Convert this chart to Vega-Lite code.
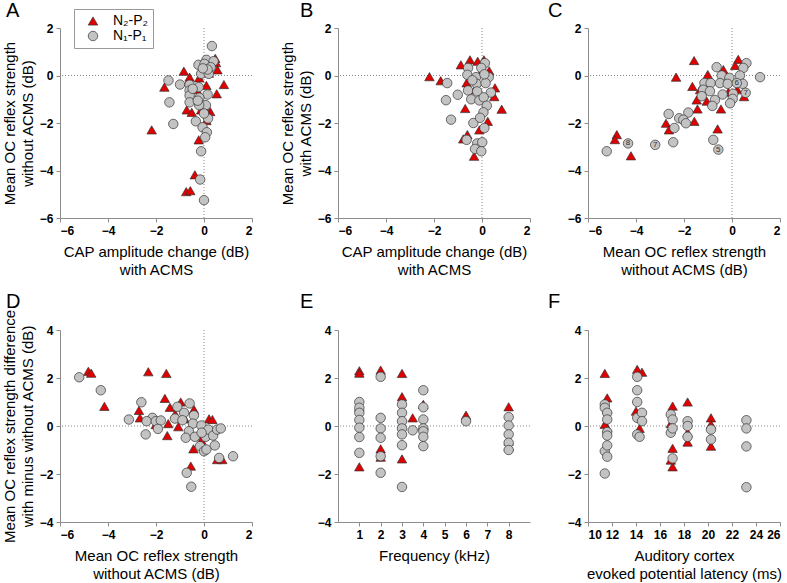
{
"$schema": "https://vega.github.io/schema/vega-lite/v6.json",
"autosize": {"type": "none"},
"padding": {"left": 60, "top": 28, "right": 727, "bottom": 555},
"background": "white",
"config": {
 "view": {"stroke": null},
 "font": "Liberation Sans",
 "axis": {"grid": false, "domainColor": "#8c8c8c", "tickColor": "#8c8c8c", "tickSize": 4, "labelFontSize": 12, "labelFontWeight": "bold", "labelColor": "#000", "labelFont": "Liberation Sans", "titleFont": "Liberation Sans", "titleFontSize": 15, "titleFontWeight": "normal", "titleColor": "#000", "titleLineHeight": 18, "labelPadding": 3},
 "axisX": {"titlePadding": 8},
 "title": {"anchor": "start", "frame": "group", "fontSize": 20, "fontWeight": "normal", "font": "Liberation Sans", "color": "#000"},
 "legend": {"orient": "none", "legendX": 14, "legendY": -19, "title": null, "labelFontSize": 14, "labelFont": "Liberation Sans", "padding": 5, "strokeColor": "#999", "fillColor": "white", "symbolStrokeColor": "#333", "symbolStrokeWidth": 0.7, "symbolSize": 90, "rowPadding": 1, "labelOffset": 13, "symbolOffset": 7}
},
"datasets": {"pts": [
{"p":"A","s":"N2","x":-0.84,"y":0.18},{"p":"A","s":"N2","x":0.5,"y":0.54},{"p":"A","s":"N2","x":0.56,"y":0.24},{"p":"A","s":"N2","x":0.47,"y":0.72},{"p":"A","s":"N2","x":-0.6,"y":-0.07},{"p":"A","s":"N2","x":-1.65,"y":-0.49},{"p":"A","s":"N2","x":0.83,"y":-0.38},{"p":"A","s":"N2","x":0.1,"y":-0.42},{"p":"A","s":"N2","x":0.53,"y":-0.77},{"p":"A","s":"N2","x":-0.72,"y":-1.45},{"p":"A","s":"N2","x":-0.51,"y":-1.55},{"p":"A","s":"N2","x":-0.12,"y":-1.45},{"p":"A","s":"N2","x":0.26,"y":-1.52},{"p":"A","s":"N2","x":0.05,"y":-1.4},{"p":"A","s":"N2","x":-2.18,"y":-2.29},{"p":"A","s":"N2","x":-0.22,"y":-2.71},{"p":"A","s":"N2","x":-0.38,"y":-4.18},{"p":"A","s":"N2","x":-0.74,"y":-4.89},{"p":"A","s":"N2","x":-0.57,"y":-4.85},{"p":"A","s":"N2","x":-0.2,"y":-0.1},{"p":"A","s":"N2","x":0.1,"y":-1.9},{"p":"A","s":"N2","x":-0.3,"y":-0.6},{"p":"A","s":"N2","x":0.2,"y":0.1},
{"p":"A","s":"N1","x":0.33,"y":1.24},{"p":"A","s":"N1","x":0.1,"y":0.66},{"p":"A","s":"N1","x":0.4,"y":0.6},{"p":"A","s":"N1","x":-0.23,"y":0.45},{"p":"A","s":"N1","x":0.02,"y":0.49},{"p":"A","s":"N1","x":0.28,"y":0.35},{"p":"A","s":"N1","x":-0.12,"y":0.07},{"p":"A","s":"N1","x":0.2,"y":0.07},{"p":"A","s":"N1","x":-1.48,"y":-0.21},{"p":"A","s":"N1","x":-1.0,"y":-0.38},{"p":"A","s":"N1","x":-0.6,"y":-0.39},{"p":"A","s":"N1","x":-0.6,"y":-0.63},{"p":"A","s":"N1","x":-0.22,"y":-0.49},{"p":"A","s":"N1","x":0.15,"y":-0.8},{"p":"A","s":"N1","x":-0.6,"y":-0.84},{"p":"A","s":"N1","x":-0.19,"y":-0.94},{"p":"A","s":"N1","x":-1.44,"y":-1.13},{"p":"A","s":"N1","x":-0.6,"y":-1.13},{"p":"A","s":"N1","x":0.08,"y":-1.25},{"p":"A","s":"N1","x":-0.2,"y":-1.25},{"p":"A","s":"N1","x":0.17,"y":-1.81},{"p":"A","s":"N1","x":-0.34,"y":-1.93},{"p":"A","s":"N1","x":-1.28,"y":-2.04},{"p":"A","s":"N1","x":-0.06,"y":-2.18},{"p":"A","s":"N1","x":0.12,"y":-2.39},{"p":"A","s":"N1","x":0.05,"y":-2.6},{"p":"A","s":"N1","x":-0.12,"y":-3.19},{"p":"A","s":"N1","x":-0.16,"y":-4.38},{"p":"A","s":"N1","x":0.0,"y":-5.25},{"p":"A","s":"N1","x":-0.47,"y":-0.56},{"p":"A","s":"N1","x":-0.26,"y":-1.06},{"p":"A","s":"N1","x":0.0,"y":-1.6},{"p":"A","s":"N1","x":0.15,"y":0.25},{"p":"A","s":"N1","x":-0.05,"y":0.3},
{"p":"B","s":"N2","x":-0.88,"y":0.45},{"p":"B","s":"N2","x":-0.5,"y":0.66},{"p":"B","s":"N2","x":-0.18,"y":0.6},{"p":"B","s":"N2","x":0.08,"y":0.66},{"p":"B","s":"N2","x":-2.19,"y":-0.05},{"p":"B","s":"N2","x":-1.72,"y":-0.22},{"p":"B","s":"N2","x":-0.64,"y":-0.31},{"p":"B","s":"N2","x":0.54,"y":-0.52},{"p":"B","s":"N2","x":0.51,"y":-0.89},{"p":"B","s":"N2","x":-0.7,"y":-1.39},{"p":"B","s":"N2","x":0.82,"y":-1.42},{"p":"B","s":"N2","x":0.24,"y":-1.93},{"p":"B","s":"N2","x":-0.11,"y":-2.29},{"p":"B","s":"N2","x":-0.61,"y":-2.49},{"p":"B","s":"N2","x":-0.78,"y":-2.67},{"p":"B","s":"N2","x":-0.33,"y":-3.4},{"p":"B","s":"N2","x":-0.05,"y":0.1},{"p":"B","s":"N2","x":0.3,"y":0.2},{"p":"B","s":"N2","x":-0.3,"y":-0.6},
{"p":"B","s":"N1","x":0.12,"y":0.52},{"p":"B","s":"N1","x":-0.58,"y":0.32},{"p":"B","s":"N1","x":-0.03,"y":0.32},{"p":"B","s":"N1","x":-0.61,"y":0.03},{"p":"B","s":"N1","x":-0.25,"y":-0.07},{"p":"B","s":"N1","x":0.28,"y":-0.07},{"p":"B","s":"N1","x":-1.45,"y":-0.32},{"p":"B","s":"N1","x":-0.22,"y":-0.35},{"p":"B","s":"N1","x":0.15,"y":-0.32},{"p":"B","s":"N1","x":-1.01,"y":-0.81},{"p":"B","s":"N1","x":-0.58,"y":-0.63},{"p":"B","s":"N1","x":-0.2,"y":-0.67},{"p":"B","s":"N1","x":0.37,"y":-0.72},{"p":"B","s":"N1","x":-1.5,"y":-1.04},{"p":"B","s":"N1","x":-0.45,"y":-1.0},{"p":"B","s":"N1","x":-0.11,"y":-1.05},{"p":"B","s":"N1","x":0.07,"y":-0.92},{"p":"B","s":"N1","x":0.2,"y":-1.27},{"p":"B","s":"N1","x":0.06,"y":-1.55},{"p":"B","s":"N1","x":-1.29,"y":-1.86},{"p":"B","s":"N1","x":-0.36,"y":-2.0},{"p":"B","s":"N1","x":-0.08,"y":-1.78},{"p":"B","s":"N1","x":0.1,"y":-2.21},{"p":"B","s":"N1","x":-0.64,"y":-2.71},{"p":"B","s":"N1","x":-0.2,"y":-2.86},{"p":"B","s":"N1","x":0.01,"y":-2.81},{"p":"B","s":"N1","x":-0.29,"y":-3.09},{"p":"B","s":"N1","x":-0.03,"y":-3.19},{"p":"B","s":"N1","x":0.1,"y":0.05},{"p":"B","s":"N1","x":-0.4,"y":-0.2},
{"p":"C","s":"N2","x":-1.58,"y":0.63},{"p":"C","s":"N2","x":0.26,"y":0.68},{"p":"C","s":"N2","x":0.13,"y":0.42},{"p":"C","s":"N2","x":-2.33,"y":-0.07},{"p":"C","s":"N2","x":-1.01,"y":0.04},{"p":"C","s":"N2","x":-1.65,"y":-0.46},{"p":"C","s":"N2","x":-1.33,"y":-0.6},{"p":"C","s":"N2","x":0.22,"y":-0.6},{"p":"C","s":"N2","x":0.5,"y":-0.89},{"p":"C","s":"N2","x":-1.47,"y":-1.03},{"p":"C","s":"N2","x":-1.05,"y":-1.08},{"p":"C","s":"N2","x":-0.46,"y":-1.41},{"p":"C","s":"N2","x":-1.44,"y":-1.41},{"p":"C","s":"N2","x":-1.57,"y":-1.93},{"p":"C","s":"N2","x":-2.75,"y":-2.01},{"p":"C","s":"N2","x":-2.63,"y":-2.29},{"p":"C","s":"N2","x":-0.6,"y":-2.25},{"p":"C","s":"N2","x":-4.8,"y":-2.49},{"p":"C","s":"N2","x":-4.88,"y":-2.7},{"p":"C","s":"N2","x":-4.21,"y":-3.38},{"p":"C","s":"N2","x":-0.36,"y":0.25},{"p":"C","s":"N2","x":-0.15,"y":-0.7},
{"p":"C","s":"N1","x":0.6,"y":0.52},{"p":"C","s":"N1","x":0.47,"y":0.32},{"p":"C","s":"N1","x":1.17,"y":-0.07},{"p":"C","s":"N1","x":-0.64,"y":0.35},{"p":"C","s":"N1","x":-0.43,"y":0.0},{"p":"C","s":"N1","x":-0.11,"y":-0.1},{"p":"C","s":"N1","x":0.33,"y":0.0},{"p":"C","s":"N1","x":-1.15,"y":-0.32},{"p":"C","s":"N1","x":-0.89,"y":-0.32},{"p":"C","s":"N1","x":-0.5,"y":-0.32},{"p":"C","s":"N1","x":-0.18,"y":-0.35},{"p":"C","s":"N1","x":0.45,"y":-0.35},{"p":"C","s":"N1","x":-1.2,"y":-0.6},{"p":"C","s":"N1","x":-0.92,"y":-0.66},{"p":"C","s":"N1","x":-1.26,"y":-0.87},{"p":"C","s":"N1","x":-0.39,"y":-0.8},{"p":"C","s":"N1","x":0.05,"y":-0.77},{"p":"C","s":"N1","x":-0.71,"y":-1.03},{"p":"C","s":"N1","x":0.03,"y":-0.98},{"p":"C","s":"N1","x":-0.08,"y":-1.17},{"p":"C","s":"N1","x":-0.82,"y":-1.28},{"p":"C","s":"N1","x":-2.64,"y":-1.62},{"p":"C","s":"N1","x":-1.82,"y":-1.56},{"p":"C","s":"N1","x":-2.2,"y":-1.8},{"p":"C","s":"N1","x":-2.03,"y":-1.86},{"p":"C","s":"N1","x":-1.92,"y":-2.01},{"p":"C","s":"N1","x":-2.4,"y":-2.21},{"p":"C","s":"N1","x":-2.45,"y":-2.81},{"p":"C","s":"N1","x":-5.22,"y":-3.19},{"p":"C","s":"N1","x":-0.78,"y":-2.71},
{"p":"C","s":"N1","x":0.2,"y":-0.32,"lab":"6"},{"p":"C","s":"N1","x":0.57,"y":-0.73,"lab":"7"},{"p":"C","s":"N1","x":-3.2,"y":-2.92,"lab":"7"},{"p":"C","s":"N1","x":-4.33,"y":-2.86,"lab":"8"},{"p":"C","s":"N1","x":-0.57,"y":-3.12,"lab":"5"},
{"p":"D","s":"N2","x":-4.82,"y":2.28},{"p":"D","s":"N2","x":-4.7,"y":2.2},{"p":"D","s":"N2","x":-4.15,"y":0.82},{"p":"D","s":"N2","x":-2.32,"y":2.26},{"p":"D","s":"N2","x":-1.57,"y":2.19},{"p":"D","s":"N2","x":-1.63,"y":1.15},{"p":"D","s":"N2","x":-2.71,"y":0.65},{"p":"D","s":"N2","x":-2.67,"y":0.34},{"p":"D","s":"N2","x":-0.97,"y":1.0},{"p":"D","s":"N2","x":-1.42,"y":0.78},{"p":"D","s":"N2","x":-0.42,"y":0.69},{"p":"D","s":"N2","x":0.21,"y":0.3},{"p":"D","s":"N2","x":0.35,"y":0.27},{"p":"D","s":"N2","x":-1.49,"y":0.1},{"p":"D","s":"N2","x":-1.07,"y":-0.03},{"p":"D","s":"N2","x":-1.53,"y":-0.4},{"p":"D","s":"N2","x":-2.01,"y":0.06},{"p":"D","s":"N2","x":-0.11,"y":-0.59},{"p":"D","s":"N2","x":-0.44,"y":-0.95},{"p":"D","s":"N2","x":-0.55,"y":-1.67},{"p":"D","s":"N2","x":0.55,"y":-1.4},{"p":"D","s":"N2","x":0.76,"y":-1.4},{"p":"D","s":"N2","x":-1.2,"y":0.5},{"p":"D","s":"N2","x":-0.8,"y":0.3},
{"p":"D","s":"N1","x":-5.2,"y":2.03},{"p":"D","s":"N1","x":-4.3,"y":1.49},{"p":"D","s":"N1","x":-3.13,"y":0.27},{"p":"D","s":"N1","x":-2.61,"y":0.99},{"p":"D","s":"N1","x":-2.43,"y":-0.35},{"p":"D","s":"N1","x":-2.15,"y":0.34},{"p":"D","s":"N1","x":-2.39,"y":0.2},{"p":"D","s":"N1","x":-2.01,"y":0.2},{"p":"D","s":"N1","x":-1.8,"y":0.23},{"p":"D","s":"N1","x":-1.92,"y":-0.12},{"p":"D","s":"N1","x":-1.11,"y":0.8},{"p":"D","s":"N1","x":-0.6,"y":0.94},{"p":"D","s":"N1","x":-0.83,"y":0.55},{"p":"D","s":"N1","x":-1.21,"y":0.31},{"p":"D","s":"N1","x":-0.9,"y":0.24},{"p":"D","s":"N1","x":-0.42,"y":0.44},{"p":"D","s":"N1","x":-0.46,"y":0.1},{"p":"D","s":"N1","x":-0.11,"y":0.02},{"p":"D","s":"N1","x":-0.63,"y":-0.22},{"p":"D","s":"N1","x":-0.76,"y":-0.49},{"p":"D","s":"N1","x":-0.38,"y":-0.45},{"p":"D","s":"N1","x":0.07,"y":-0.45},{"p":"D","s":"N1","x":0.18,"y":-0.15},{"p":"D","s":"N1","x":0.38,"y":-0.4},{"p":"D","s":"N1","x":0.55,"y":-0.15},{"p":"D","s":"N1","x":0.7,"y":-0.1},{"p":"D","s":"N1","x":0.45,"y":-0.81},{"p":"D","s":"N1","x":-0.17,"y":-0.84},{"p":"D","s":"N1","x":0.0,"y":-1.05},{"p":"D","s":"N1","x":0.1,"y":-0.98},{"p":"D","s":"N1","x":0.63,"y":-1.33},{"p":"D","s":"N1","x":1.21,"y":-1.26},{"p":"D","s":"N1","x":-0.72,"y":-1.95},{"p":"D","s":"N1","x":-0.53,"y":-2.53},{"p":"D","s":"N1","x":-0.1,"y":-0.28},
{"p":"E","s":"N2","x":1,"y":2.3},{"p":"E","s":"N2","x":1,"y":2.2},{"p":"E","s":"N2","x":1,"y":-1.7},{"p":"E","s":"N2","x":1,"y":0.8},{"p":"E","s":"N2","x":2,"y":2.33},{"p":"E","s":"N2","x":2,"y":-0.95},{"p":"E","s":"N2","x":2,"y":-1.3},{"p":"E","s":"N2","x":3,"y":2.19},{"p":"E","s":"N2","x":3,"y":1.22},{"p":"E","s":"N2","x":3,"y":-1.37},{"p":"E","s":"N2","x":3.5,"y":0.34},{"p":"E","s":"N2","x":4,"y":0.9},{"p":"E","s":"N2","x":4,"y":0.02},{"p":"E","s":"N2","x":6,"y":0.45},{"p":"E","s":"N2","x":8,"y":0.8},{"p":"E","s":"N2","x":8,"y":-0.63},{"p":"E","s":"N2","x":8,"y":-0.85},
{"p":"E","s":"N1","x":1,"y":1.0},{"p":"E","s":"N1","x":1,"y":0.76},{"p":"E","s":"N1","x":1,"y":0.55},{"p":"E","s":"N1","x":1,"y":0.25},{"p":"E","s":"N1","x":1,"y":-0.07},{"p":"E","s":"N1","x":1,"y":-0.46},{"p":"E","s":"N1","x":1,"y":-1.12},{"p":"E","s":"N1","x":2,"y":2.05},{"p":"E","s":"N1","x":2,"y":0.34},{"p":"E","s":"N1","x":2,"y":-0.1},{"p":"E","s":"N1","x":2,"y":-0.49},{"p":"E","s":"N1","x":2,"y":-1.26},{"p":"E","s":"N1","x":2,"y":-1.95},{"p":"E","s":"N1","x":3,"y":0.9},{"p":"E","s":"N1","x":3,"y":0.55},{"p":"E","s":"N1","x":3,"y":0.2},{"p":"E","s":"N1","x":3,"y":-0.1},{"p":"E","s":"N1","x":3,"y":-0.35},{"p":"E","s":"N1","x":3,"y":-0.8},{"p":"E","s":"N1","x":3,"y":-2.54},{"p":"E","s":"N1","x":3.5,"y":-0.18},{"p":"E","s":"N1","x":4,"y":1.49},{"p":"E","s":"N1","x":4,"y":0.78},{"p":"E","s":"N1","x":4,"y":0.27},{"p":"E","s":"N1","x":4,"y":-0.1},{"p":"E","s":"N1","x":4,"y":-0.22},{"p":"E","s":"N1","x":4,"y":-0.45},{"p":"E","s":"N1","x":4,"y":-0.84},{"p":"E","s":"N1","x":6,"y":0.2},{"p":"E","s":"N1","x":8,"y":0.37},{"p":"E","s":"N1","x":8,"y":0.02},{"p":"E","s":"N1","x":8,"y":-0.35},{"p":"E","s":"N1","x":8,"y":-0.7},{"p":"E","s":"N1","x":8,"y":-1.0},
{"p":"F","s":"N2","x":11.4,"y":2.19},{"p":"F","s":"N2","x":11.6,"y":1.17},{"p":"F","s":"N2","x":11.6,"y":0.69},{"p":"F","s":"N2","x":11.6,"y":-0.07},{"p":"F","s":"N2","x":11.4,"y":0.07},{"p":"F","s":"N2","x":14.1,"y":2.36},{"p":"F","s":"N2","x":14.5,"y":2.24},{"p":"F","s":"N2","x":14.3,"y":-0.1},{"p":"F","s":"N2","x":14.0,"y":0.62},{"p":"F","s":"N2","x":17.05,"y":0.83},{"p":"F","s":"N2","x":17.05,"y":-0.93},{"p":"F","s":"N2","x":17.05,"y":-1.7},{"p":"F","s":"N2","x":16.9,"y":-1.42},{"p":"F","s":"N2","x":16.9,"y":0.1},{"p":"F","s":"N2","x":18.3,"y":1.0},{"p":"F","s":"N2","x":18.3,"y":-0.67},{"p":"F","s":"N2","x":18.3,"y":-0.28},{"p":"F","s":"N2","x":20.25,"y":0.34},{"p":"F","s":"N2","x":20.25,"y":-0.84},{"p":"F","s":"N2","x":20.25,"y":0.07},
{"p":"F","s":"N1","x":11.4,"y":0.9},{"p":"F","s":"N1","x":11.4,"y":0.76},{"p":"F","s":"N1","x":11.4,"y":-1.05},{"p":"F","s":"N1","x":11.4,"y":-1.98},{"p":"F","s":"N1","x":11.6,"y":0.55},{"p":"F","s":"N1","x":11.6,"y":0.27},{"p":"F","s":"N1","x":11.6,"y":-0.25},{"p":"F","s":"N1","x":11.6,"y":-0.4},{"p":"F","s":"N1","x":11.6,"y":-0.81},{"p":"F","s":"N1","x":11.6,"y":-1.28},{"p":"F","s":"N1","x":14.1,"y":2.05},{"p":"F","s":"N1","x":14.1,"y":1.49},{"p":"F","s":"N1","x":14.1,"y":1.0},{"p":"F","s":"N1","x":14.1,"y":0.34},{"p":"F","s":"N1","x":14.1,"y":-0.35},{"p":"F","s":"N1","x":14.5,"y":0.55},{"p":"F","s":"N1","x":14.5,"y":0.2},{"p":"F","s":"N1","x":14.3,"y":-0.45},{"p":"F","s":"N1","x":16.9,"y":0.48},{"p":"F","s":"N1","x":16.9,"y":-0.28},{"p":"F","s":"N1","x":17.05,"y":0.27},{"p":"F","s":"N1","x":17.05,"y":-0.1},{"p":"F","s":"N1","x":17.05,"y":-1.35},{"p":"F","s":"N1","x":18.3,"y":0.2},{"p":"F","s":"N1","x":18.3,"y":0.0},{"p":"F","s":"N1","x":18.3,"y":-0.45},{"p":"F","s":"N1","x":20.25,"y":-0.15},{"p":"F","s":"N1","x":20.25,"y":-0.56},{"p":"F","s":"N1","x":23.2,"y":0.24},{"p":"F","s":"N1","x":23.2,"y":-0.1},{"p":"F","s":"N1","x":23.2,"y":-0.85},{"p":"F","s":"N1","x":23.2,"y":-2.55}
]},
"spacing": 302,
"bounds": "flush",
"vconcat": [
{"hconcat": [
 {"width": 192, "height": 190, "title": {"text": "A", "dx": -54, "offset": 1},
  "layer": [
   {"data": {"values": [{}]}, "mark": {"type": "rule", "strokeDash": [1, 2], "color": "#888", "strokeWidth": 1}, "encoding": {"x": {"datum": 0, "type": "quantitative"}}},
   {"data": {"values": [{}]}, "mark": {"type": "rule", "strokeDash": [1, 2], "color": "#888", "strokeWidth": 1}, "encoding": {"y": {"datum": 0, "type": "quantitative"}}},
   {"data": {"name": "pts"}, "transform": [{"filter": "datum.p == 'A'"}],
    "mark": {"type": "point", "filled": true, "size": 90, "stroke": "#333", "strokeWidth": 0.7, "opacity": 1},
    "encoding": {
     "x": {"field": "x", "type": "quantitative", "scale": {"domain": [-6, 2]}, "axis": {"values": [-6, -4, -2, 0, 2], "title": ["CAP amplitude change (dB)", "with ACMS"]}},
     "y": {"field": "y", "type": "quantitative", "scale": {"domain": [-6, 2]}, "axis": {"values": [-6, -4, -2, 0, 2], "title": ["Mean OC reflex strength", "without ACMS (dB)"]}},
     "shape": {"field": "s", "type": "nominal", "scale": {"domain": ["N2", "N1"], "range": ["triangle-up", "circle"]}, "legend": {"labelExpr": "datum.label == 'N2' ? 'N₂-P₂' : 'N₁-P₁'"}},
     "color": {"field": "s", "type": "nominal", "scale": {"domain": ["N2", "N1"], "range": ["#e00000", "#c3c3c3"]}, "legend": {"labelExpr": "datum.label == 'N2' ? 'N₂-P₂' : 'N₁-P₁'"}}
    }}
  ]},
 {"hconcat": [
  {"width": 192, "height": 190, "title": {"text": "B", "dx": -38, "offset": 1},
   "layer": [
    {"data": {"values": [{}]}, "mark": {"type": "rule", "strokeDash": [1, 2], "color": "#888", "strokeWidth": 1}, "encoding": {"x": {"datum": 0, "type": "quantitative"}}},
    {"data": {"values": [{}]}, "mark": {"type": "rule", "strokeDash": [1, 2], "color": "#888", "strokeWidth": 1}, "encoding": {"y": {"datum": 0, "type": "quantitative"}}},
    {"data": {"name": "pts"}, "transform": [{"filter": "datum.p == 'B'"}],
     "mark": {"type": "point", "filled": true, "size": 90, "stroke": "#333", "strokeWidth": 0.7, "opacity": 1},
     "encoding": {
      "x": {"field": "x", "type": "quantitative", "scale": {"domain": [-6, 2]}, "axis": {"values": [-6, -4, -2, 0, 2], "title": ["CAP amplitude change (dB)", "with ACMS"]}},
      "y": {"field": "y", "type": "quantitative", "scale": {"domain": [-6, 2]}, "axis": {"values": [-6, -4, -2, 0, 2], "title": ["Mean OC reflex strength", "with ACMS (dB)"]}},
      "shape": {"field": "s", "type": "nominal", "scale": {"domain": ["N2", "N1"], "range": ["triangle-up", "circle"]}, "legend": {"labelExpr": "datum.label == 'N2' ? 'N₂-P₂' : 'N₁-P₁'"}},
      "color": {"field": "s", "type": "nominal", "scale": {"domain": ["N2", "N1"], "range": ["#e00000", "#c3c3c3"]}, "legend": {"labelExpr": "datum.label == 'N2' ? 'N₂-P₂' : 'N₁-P₁'"}}
     }}
   ]},
  {"width": 192, "height": 190, "title": {"text": "C", "dx": -40, "offset": 1},
   "layer": [
    {"data": {"values": [{}]}, "mark": {"type": "rule", "strokeDash": [1, 2], "color": "#888", "strokeWidth": 1}, "encoding": {"x": {"datum": 0, "type": "quantitative"}}},
    {"data": {"values": [{}]}, "mark": {"type": "rule", "strokeDash": [1, 2], "color": "#888", "strokeWidth": 1}, "encoding": {"y": {"datum": 0, "type": "quantitative"}}},
    {"data": {"name": "pts"}, "transform": [{"filter": "datum.p == 'C'"}],
     "mark": {"type": "point", "filled": true, "size": 90, "stroke": "#333", "strokeWidth": 0.7, "opacity": 1},
     "encoding": {
      "x": {"field": "x", "type": "quantitative", "scale": {"domain": [-6, 2]}, "axis": {"values": [-6, -4, -2, 0, 2], "title": ["Mean OC reflex strength", "without ACMS (dB)"]}},
      "y": {"field": "y", "type": "quantitative", "scale": {"domain": [-6, 2]}, "axis": {"values": [-6, -4, -2, 0, 2], "title": null}},
      "shape": {"field": "s", "type": "nominal", "scale": {"domain": ["N2", "N1"], "range": ["triangle-up", "circle"]}, "legend": {"labelExpr": "datum.label == 'N2' ? 'N₂-P₂' : 'N₁-P₁'"}},
      "color": {"field": "s", "type": "nominal", "scale": {"domain": ["N2", "N1"], "range": ["#e00000", "#c3c3c3"]}, "legend": {"labelExpr": "datum.label == 'N2' ? 'N₂-P₂' : 'N₁-P₁'"}}
     }},
    {"data": {"name": "pts"}, "transform": [{"filter": "datum.p == 'C' && datum.lab != null"}],
     "mark": {"type": "text", "fontSize": 8, "color": "#333", "baseline": "middle", "align": "center"},
     "encoding": {"x": {"field": "x", "type": "quantitative"}, "y": {"field": "y", "type": "quantitative"}, "text": {"field": "lab"}}}
   ]}
 ], "spacing": 58, "bounds": "flush"}
], "spacing": 86, "bounds": "flush"},
{"hconcat": [
 {"width": 192, "height": 192, "title": {"text": "D", "dx": -54, "offset": -3},
  "layer": [
   {"data": {"values": [{}]}, "mark": {"type": "rule", "strokeDash": [1, 2], "color": "#888", "strokeWidth": 1}, "encoding": {"x": {"datum": 0, "type": "quantitative"}}},
   {"data": {"values": [{}]}, "mark": {"type": "rule", "strokeDash": [1, 2], "color": "#888", "strokeWidth": 1}, "encoding": {"y": {"datum": 0, "type": "quantitative"}}},
   {"data": {"name": "pts"}, "transform": [{"filter": "datum.p == 'D'"}],
    "mark": {"type": "point", "filled": true, "size": 90, "stroke": "#333", "strokeWidth": 0.7, "opacity": 1},
    "encoding": {
     "x": {"field": "x", "type": "quantitative", "scale": {"domain": [-6, 2]}, "axis": {"values": [-6, -4, -2, 0, 2], "title": ["Mean OC reflex strength", "without ACMS (dB)"]}},
     "y": {"field": "y", "type": "quantitative", "scale": {"domain": [-4, 4]}, "axis": {"values": [-4, -2, 0, 2, 4], "title": ["Mean OC reflex strength difference", "with minus without ACMS (dB)"]}},
     "shape": {"field": "s", "type": "nominal", "scale": {"domain": ["N2", "N1"], "range": ["triangle-up", "circle"]}, "legend": {"labelExpr": "datum.label == 'N2' ? 'N₂-P₂' : 'N₁-P₁'"}},
     "color": {"field": "s", "type": "nominal", "scale": {"domain": ["N2", "N1"], "range": ["#e00000", "#c3c3c3"]}, "legend": {"labelExpr": "datum.label == 'N2' ? 'N₂-P₂' : 'N₁-P₁'"}}
    }}
  ]},
 {"hconcat": [
  {"width": 192, "height": 192, "title": {"text": "E", "dx": -38, "offset": 12},
   "layer": [
    {"data": {"values": [{}]}, "mark": {"type": "rule", "strokeDash": [1, 2], "color": "#888", "strokeWidth": 1}, "encoding": {"y": {"datum": 0, "type": "quantitative"}}},
    {"data": {"name": "pts"}, "transform": [{"filter": "datum.p == 'E'"}],
     "mark": {"type": "point", "filled": true, "size": 90, "stroke": "#333", "strokeWidth": 0.7, "opacity": 1},
     "encoding": {
      "x": {"field": "x", "type": "quantitative", "scale": {"domain": [0, 9]}, "axis": {"values": [1, 2, 3, 4, 5, 6, 7, 8], "title": "Frequency (kHz)"}},
      "y": {"field": "y", "type": "quantitative", "scale": {"domain": [-4, 4]}, "axis": {"values": [-4, -2, 0, 2, 4], "title": null}},
      "shape": {"field": "s", "type": "nominal", "scale": {"domain": ["N2", "N1"], "range": ["triangle-up", "circle"]}, "legend": {"labelExpr": "datum.label == 'N2' ? 'N₂-P₂' : 'N₁-P₁'"}},
      "color": {"field": "s", "type": "nominal", "scale": {"domain": ["N2", "N1"], "range": ["#e00000", "#c3c3c3"]}, "legend": {"labelExpr": "datum.label == 'N2' ? 'N₂-P₂' : 'N₁-P₁'"}}
     }}
   ]},
  {"width": 192, "height": 192, "title": {"text": "F", "dx": -40, "offset": 12},
   "layer": [
    {"data": {"values": [{}]}, "mark": {"type": "rule", "strokeDash": [1, 2], "color": "#888", "strokeWidth": 1}, "encoding": {"y": {"datum": 0, "type": "quantitative"}}},
    {"data": {"name": "pts"}, "transform": [{"filter": "datum.p == 'F'"}],
     "mark": {"type": "point", "filled": true, "size": 90, "stroke": "#333", "strokeWidth": 0.7, "opacity": 1},
     "encoding": {
      "x": {"field": "x", "type": "quantitative", "scale": {"domain": [10, 26]}, "axis": {"values": [10, 12, 14, 16, 18, 20, 22, 24, 26], "title": ["Auditory cortex", "evoked potential latency (ms)"]}},
      "y": {"field": "y", "type": "quantitative", "scale": {"domain": [-4, 4]}, "axis": {"values": [-4, -2, 0, 2, 4], "title": null}},
      "shape": {"field": "s", "type": "nominal", "scale": {"domain": ["N2", "N1"], "range": ["triangle-up", "circle"]}, "legend": {"labelExpr": "datum.label == 'N2' ? 'N₂-P₂' : 'N₁-P₁'"}},
      "color": {"field": "s", "type": "nominal", "scale": {"domain": ["N2", "N1"], "range": ["#e00000", "#c3c3c3"]}, "legend": {"labelExpr": "datum.label == 'N2' ? 'N₂-P₂' : 'N₁-P₁'"}}
     }}
   ]}
 ], "spacing": 58, "bounds": "flush"}
], "spacing": 86, "bounds": "flush"}
]
}
